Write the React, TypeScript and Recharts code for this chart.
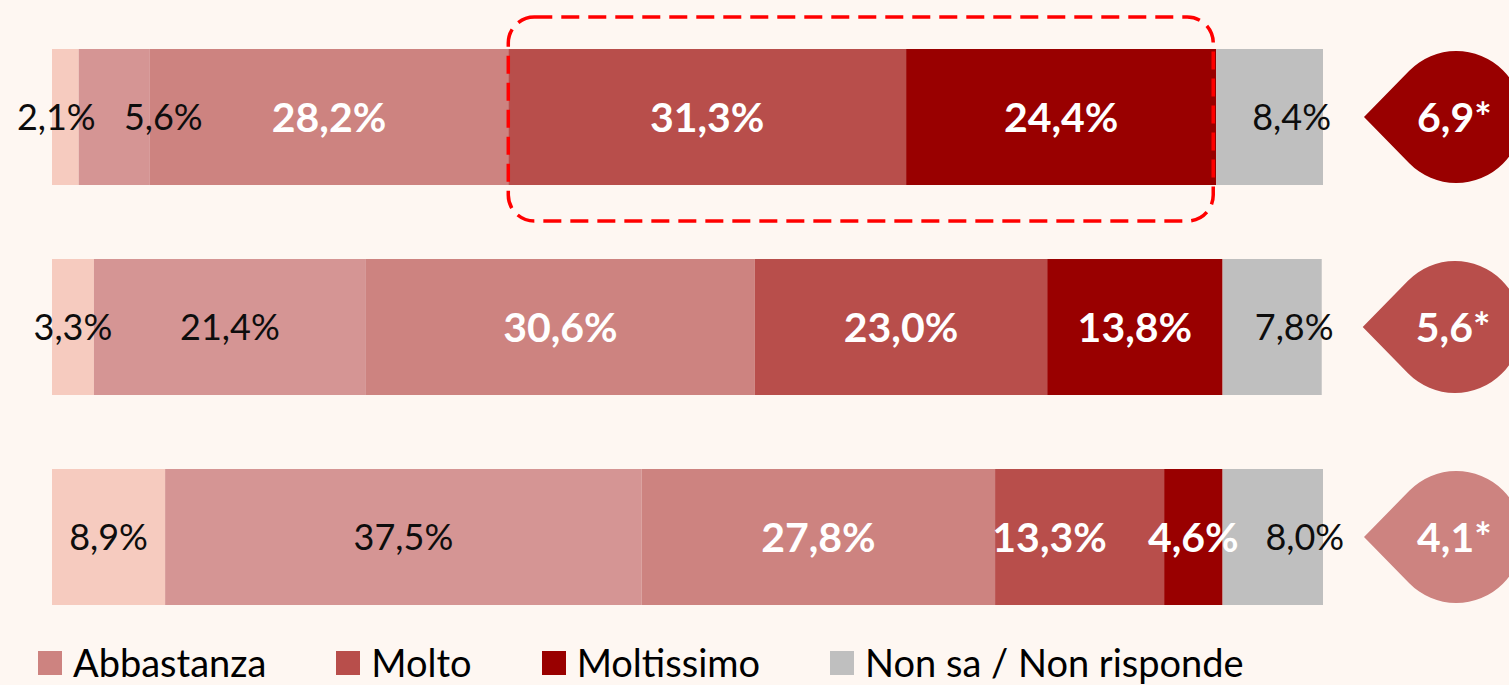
import React from 'react';
import {
  BarChart,
  Bar,
  XAxis,
  YAxis,
  Legend,
  LabelList,
  ReferenceArea,
} from 'recharts';

// Stacked 100% horizontal bars, one per row, with the "score" drop on the right.

const rows = ['Riga 1', 'Riga 2', 'Riga 3'];
const perNiente = [2.1, 3.3, 8.9];
const poco = [5.6, 21.4, 37.5];
const abbastanza = [28.2, 30.6, 27.8];
const molto = [31.3, 23.0, 13.3];
const moltissimo = [24.4, 13.8, 4.6];
const nonSa = [8.4, 7.8, 8.0];
const scores = [6.9, 5.6, 4.1];

const SERIES = [
  { key: 'perNiente', name: 'Per niente', color: '#f6cbbf', bold: false },
  { key: 'poco', name: 'Poco', color: '#d59594', bold: false },
  { key: 'abbastanza', name: 'Abbastanza', color: '#cd8380', bold: true },
  { key: 'molto', name: 'Molto', color: '#b84e4b', bold: true },
  { key: 'moltissimo', name: 'Moltissimo', color: '#990000', bold: true },
  { key: 'nonSa', name: 'Non sa / Non risponde', color: '#bfbfbf', bold: false },
];
const LEGEND_SHOWN = ['Abbastanza', 'Molto', 'Moltissimo', 'Non sa / Non risponde'];
const BADGE_COLORS = ['#990000', '#b84e4b', '#cd8380'];

// hand-moved labels in the original (pixels, by row)
const labelNudge: Record<string, number[]> = {
  perNiente: [-9, 0, 0],
  poco: [49, 0, 0],
  molto: [0, 0, -30],
  nonSa: [22, 22, 32],
};

const data = rows.map((name, i) => ({
  name,
  perNiente: perNiente[i],
  poco: poco[i],
  abbastanza: abbastanza[i],
  molto: molto[i],
  moltissimo: moltissimo[i],
  nonSa: nonSa[i],
  score: scores[i],
}));

const FONT = 'Lato, "Open Sans", sans-serif';
const fmt = (v: number) => v.toFixed(1).replace('.', ',');

const makeLabel = (key: string, bold: boolean) => (props: any) => {
  const { x, y, width, height, value, index } = props;
  const nudge = labelNudge[key]?.[index] ?? 0;
  const cx = Number(x) + Number(width) / 2 + nudge;
  const cy = Number(y) + Number(height) / 2;
  const size = bold ? 41 : 36;
  return (
    <text
      x={cx}
      y={cy + size * 0.36}
      textAnchor="middle"
      fontFamily={FONT}
      fontSize={size}
      fontWeight={bold ? 700 : 400}
      fill={bold ? '#ffffff' : '#0d0d0d'}
    >
      {fmt(Number(value)) + '%'}
    </text>
  );
};

const renderBadge = (props: any) => {
  const { x, y, width, height, value, index } = props;
  const r = 66;
  const px = Number(x) + Number(width) + 41;
  const cy = Number(y) + Number(height) / 2;
  const d = r * 1.4;
  const cx = px + d;
  const a = Math.acos(r / d);
  const tx = cx - r * Math.cos(a);
  const ty = r * Math.sin(a);
  const path = `M ${px} ${cy} L ${tx} ${cy - ty} A ${r} ${r} 0 1 1 ${tx} ${cy + ty} Z`;
  return (
    <g>
      <path d={path} fill={BADGE_COLORS[index]} />
      <text
        x={cx - 2}
        y={cy + 41 * 0.36}
        textAnchor="middle"
        fontFamily={FONT}
        fontSize={41}
        fontWeight={700}
        fill="#ffffff"
      >
        {fmt(Number(value)) + '*'}
      </text>
    </g>
  );
};

const renderLegend = (props: any) => {
  const items = (props.payload || [])
    .filter((p: any) => LEGEND_SHOWN.includes(p.value))
    .sort((a: any, b: any) => LEGEND_SHOWN.indexOf(a.value) - LEGEND_SHOWN.indexOf(b.value));
  return (
    <div
      style={{
        display: 'flex',
        alignItems: 'center',
        fontFamily: FONT,
        fontSize: 38,
        lineHeight: '45px',
        color: '#000',
        whiteSpace: 'nowrap',
      }}
    >
      {items.map((p: any) => (
        <div key={p.value} style={{ display: 'flex', alignItems: 'center', marginRight: 70 }}>
          <span style={{ width: 24, height: 24, background: p.color, marginRight: 11, display: 'inline-block' }} />
          {p.value}
        </div>
      ))}
    </div>
  );
};

const boxStart = perNiente[0] + poco[0] + abbastanza[0];
const boxEnd = boxStart + molto[0] + moltissimo[0];

export default function App() {
  return (
    <div
      style={{
        position: 'fixed',
        left: 0,
        top: 0,
        width: 1509,
        height: 685,
        background: '#fef7f2',
        overflow: 'hidden',
        fontFamily: FONT,
      }}
    >
      <BarChart
        width={1509}
        height={685}
        data={data}
        layout="vertical"
        margin={{ top: 12, right: 186, bottom: 43, left: 52 }}
        style={{ overflow: 'visible' }}
      >
        <XAxis type="number" domain={[0, 100]} allowDataOverflow hide />
        <YAxis
          type="category"
          dataKey="name"
          width={0}
          tick={false}
          tickLine={false}
          axisLine={{ stroke: '#d6d6d6', strokeWidth: 2 }}
        />
        {SERIES.map((s) => (
          <Bar
            key={s.key}
            dataKey={s.key}
            name={s.name}
            stackId="a"
            fill={s.color}
            barSize={136}
            isAnimationActive={false}
          >
            <LabelList dataKey={s.key} content={makeLabel(s.key, s.bold)} />
            {s.key === 'nonSa' && <LabelList dataKey="score" content={renderBadge} />}
          </Bar>
        ))}
        <ReferenceArea
          x1={boxStart}
          x2={boxEnd}
          y1={rows[0]}
          y2={rows[0]}
          ifOverflow="visible"
          zIndex={2500}
          shape={(p: any) => (
            <rect
              x={p.x}
              y={p.y + 5}
              width={p.width - 3}
              height={p.height - 6}
              rx={26}
              ry={26}
              fill="none"
              stroke="#ff0000"
              strokeWidth={3.5}
              strokeDasharray="18 9"
            />
          )}
        />
        <Legend
          layout="horizontal"
          verticalAlign="middle"
          align="center"
          content={renderLegend}
          wrapperStyle={{ position: 'absolute', left: 38, top: 640, width: 1450 }}
        />
      </BarChart>
    </div>
  );
}
